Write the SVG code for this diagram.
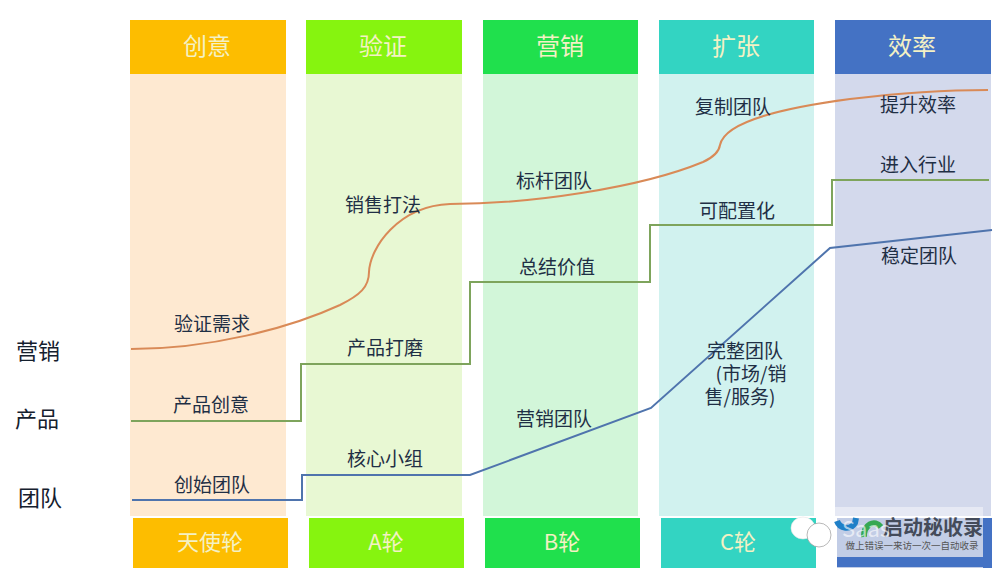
<svg xmlns="http://www.w3.org/2000/svg" width="1003" height="577" viewBox="0 0 1003 577">
<style>
text{font-family:"Noto Sans CJK SC","Liberation Sans",sans-serif;text-anchor:middle}
.h{font-size:24px;fill:#f4f1c4}
.f{font-size:22px;fill:#f4f1c4}
.l{font-size:19px;fill:#1f2f45}
.s{font-size:22px;fill:#15202e}
.c{fill:none;stroke-width:2}
</style>
<rect width="1003" height="577" fill="#fff"/>
<g id="col-chuangyi"><rect x="130" y="74" width="156" height="442" fill="#fee9d1"/><rect x="130" y="20" width="156" height="54" fill="#fdbd00"/><text class="h" x="207" y="55">创意</text><rect x="133" y="518" width="155" height="50" fill="#fdbd00"/><text class="f" x="210" y="550">天使轮</text></g>
<g id="col-yanzheng"><rect x="306" y="74" width="156" height="442" fill="#e8f8d3"/><rect x="306" y="20" width="156" height="54" fill="#86f40f"/><text class="h" x="383" y="55">验证</text><rect x="309" y="518" width="155" height="50" fill="#86f40f"/><text class="f" x="386" y="550">A轮</text></g>
<g id="col-yingxiao"><rect x="483" y="74" width="155" height="442" fill="#d2f6d9"/><rect x="483" y="20" width="155" height="54" fill="#20e04d"/><text class="h" x="560" y="55">营销</text><rect x="485" y="518" width="155" height="50" fill="#20e04d"/><text class="f" x="562" y="550">B轮</text></g>
<g id="col-kuozhang"><rect x="659" y="74" width="155" height="442" fill="#d1f2ef"/><rect x="659" y="20" width="155" height="54" fill="#33d4c2"/><text class="h" x="736" y="55">扩张</text><rect x="661" y="518" width="155" height="50" fill="#33d4c2"/><text class="f" x="738" y="550">C轮</text></g>
<g id="col-xiaolv"><rect x="835" y="74" width="156" height="442" fill="#d3d9ec"/><rect x="835" y="507" width="148" height="9" fill="#e6e9f4"/><rect x="835" y="20" width="156" height="54" fill="#4472c4"/><text class="h" x="912" y="55">效率</text><rect x="837" y="518" width="155" height="50" fill="#c2cde6"/><rect x="837" y="557" width="155" height="10" fill="#4472c4"/><rect x="983" y="518" width="9" height="50" fill="#4472c4"/></g>
<g id="connectors">
<path class="c" stroke="#d98a57" d="M131 349C210 349 290 328 340 305C360 295 369 287 369 272C370 248 398 206 450 204C530 204 640 188 703 162C714 157 719 152 720 145C725 120 790 107 850 99C900 93 950 90 988 90"/>
<path class="c" stroke="#7ea45c" d="M131 421H301V364H470V282H650V225H832V180H989"/>
<path class="c" stroke="#4f74ad" d="M132 500H302V475H470L651 408L830 248L992 230"/>
</g>
<g id="labels">
<text class="l" x="212" y="331">验证需求</text><text class="l" x="211" y="412">产品创意</text><text class="l" x="212" y="492">创始团队</text>
<text class="l" x="383" y="212">销售打法</text><text class="l" x="385" y="355">产品打磨</text><text class="l" x="385" y="466">核心小组</text>
<text class="l" x="554" y="188">标杆团队</text><text class="l" x="557" y="274">总结价值</text><text class="l" x="554" y="426">营销团队</text>
<text class="l" x="733" y="114">复制团队</text><text class="l" x="737" y="218">可配置化</text>
<text class="l" x="745" y="358">完整团队</text><text class="l" x="751" y="381">(市场/销</text><text class="l" x="740" y="404">售/服务)</text>
<text class="l" x="918" y="112">提升效率</text><text class="l" x="918" y="172">进入行业</text><text class="l" x="919" y="263">稳定团队</text>
<text class="s" x="38" y="359">营销</text><text class="s" x="37" y="427">产品</text><text class="s" x="40" y="506">团队</text>
</g>
<g id="watermark">
<ellipse cx="803" cy="528" rx="12" ry="11" fill="#fff" stroke="#e4e4e4" stroke-width=".6"/><ellipse cx="819" cy="535" rx="12" ry="12" fill="#fff" stroke="#888" stroke-width=".6"/>
<path d="M837 521a10 10 0 0 0 18 2l1-5" fill="none" stroke="#1f80c8" stroke-width="6"/><path d="M864 537a10 13 0 0 1 17-10" fill="none" stroke="#35a853" stroke-width="6"/>
<text x="933" y="535" style="font-size:20px;font-weight:700;fill:#444b5a">启动秘收录</text>
<text x="912" y="549" style="font-size:9.5px;fill:#555">做上错误一来访一次一自动收录</text>
<text x="866" y="537" style="font-size:22px;fill:#fff;fill-opacity:.6">Saas</text>
</g>
</svg>
